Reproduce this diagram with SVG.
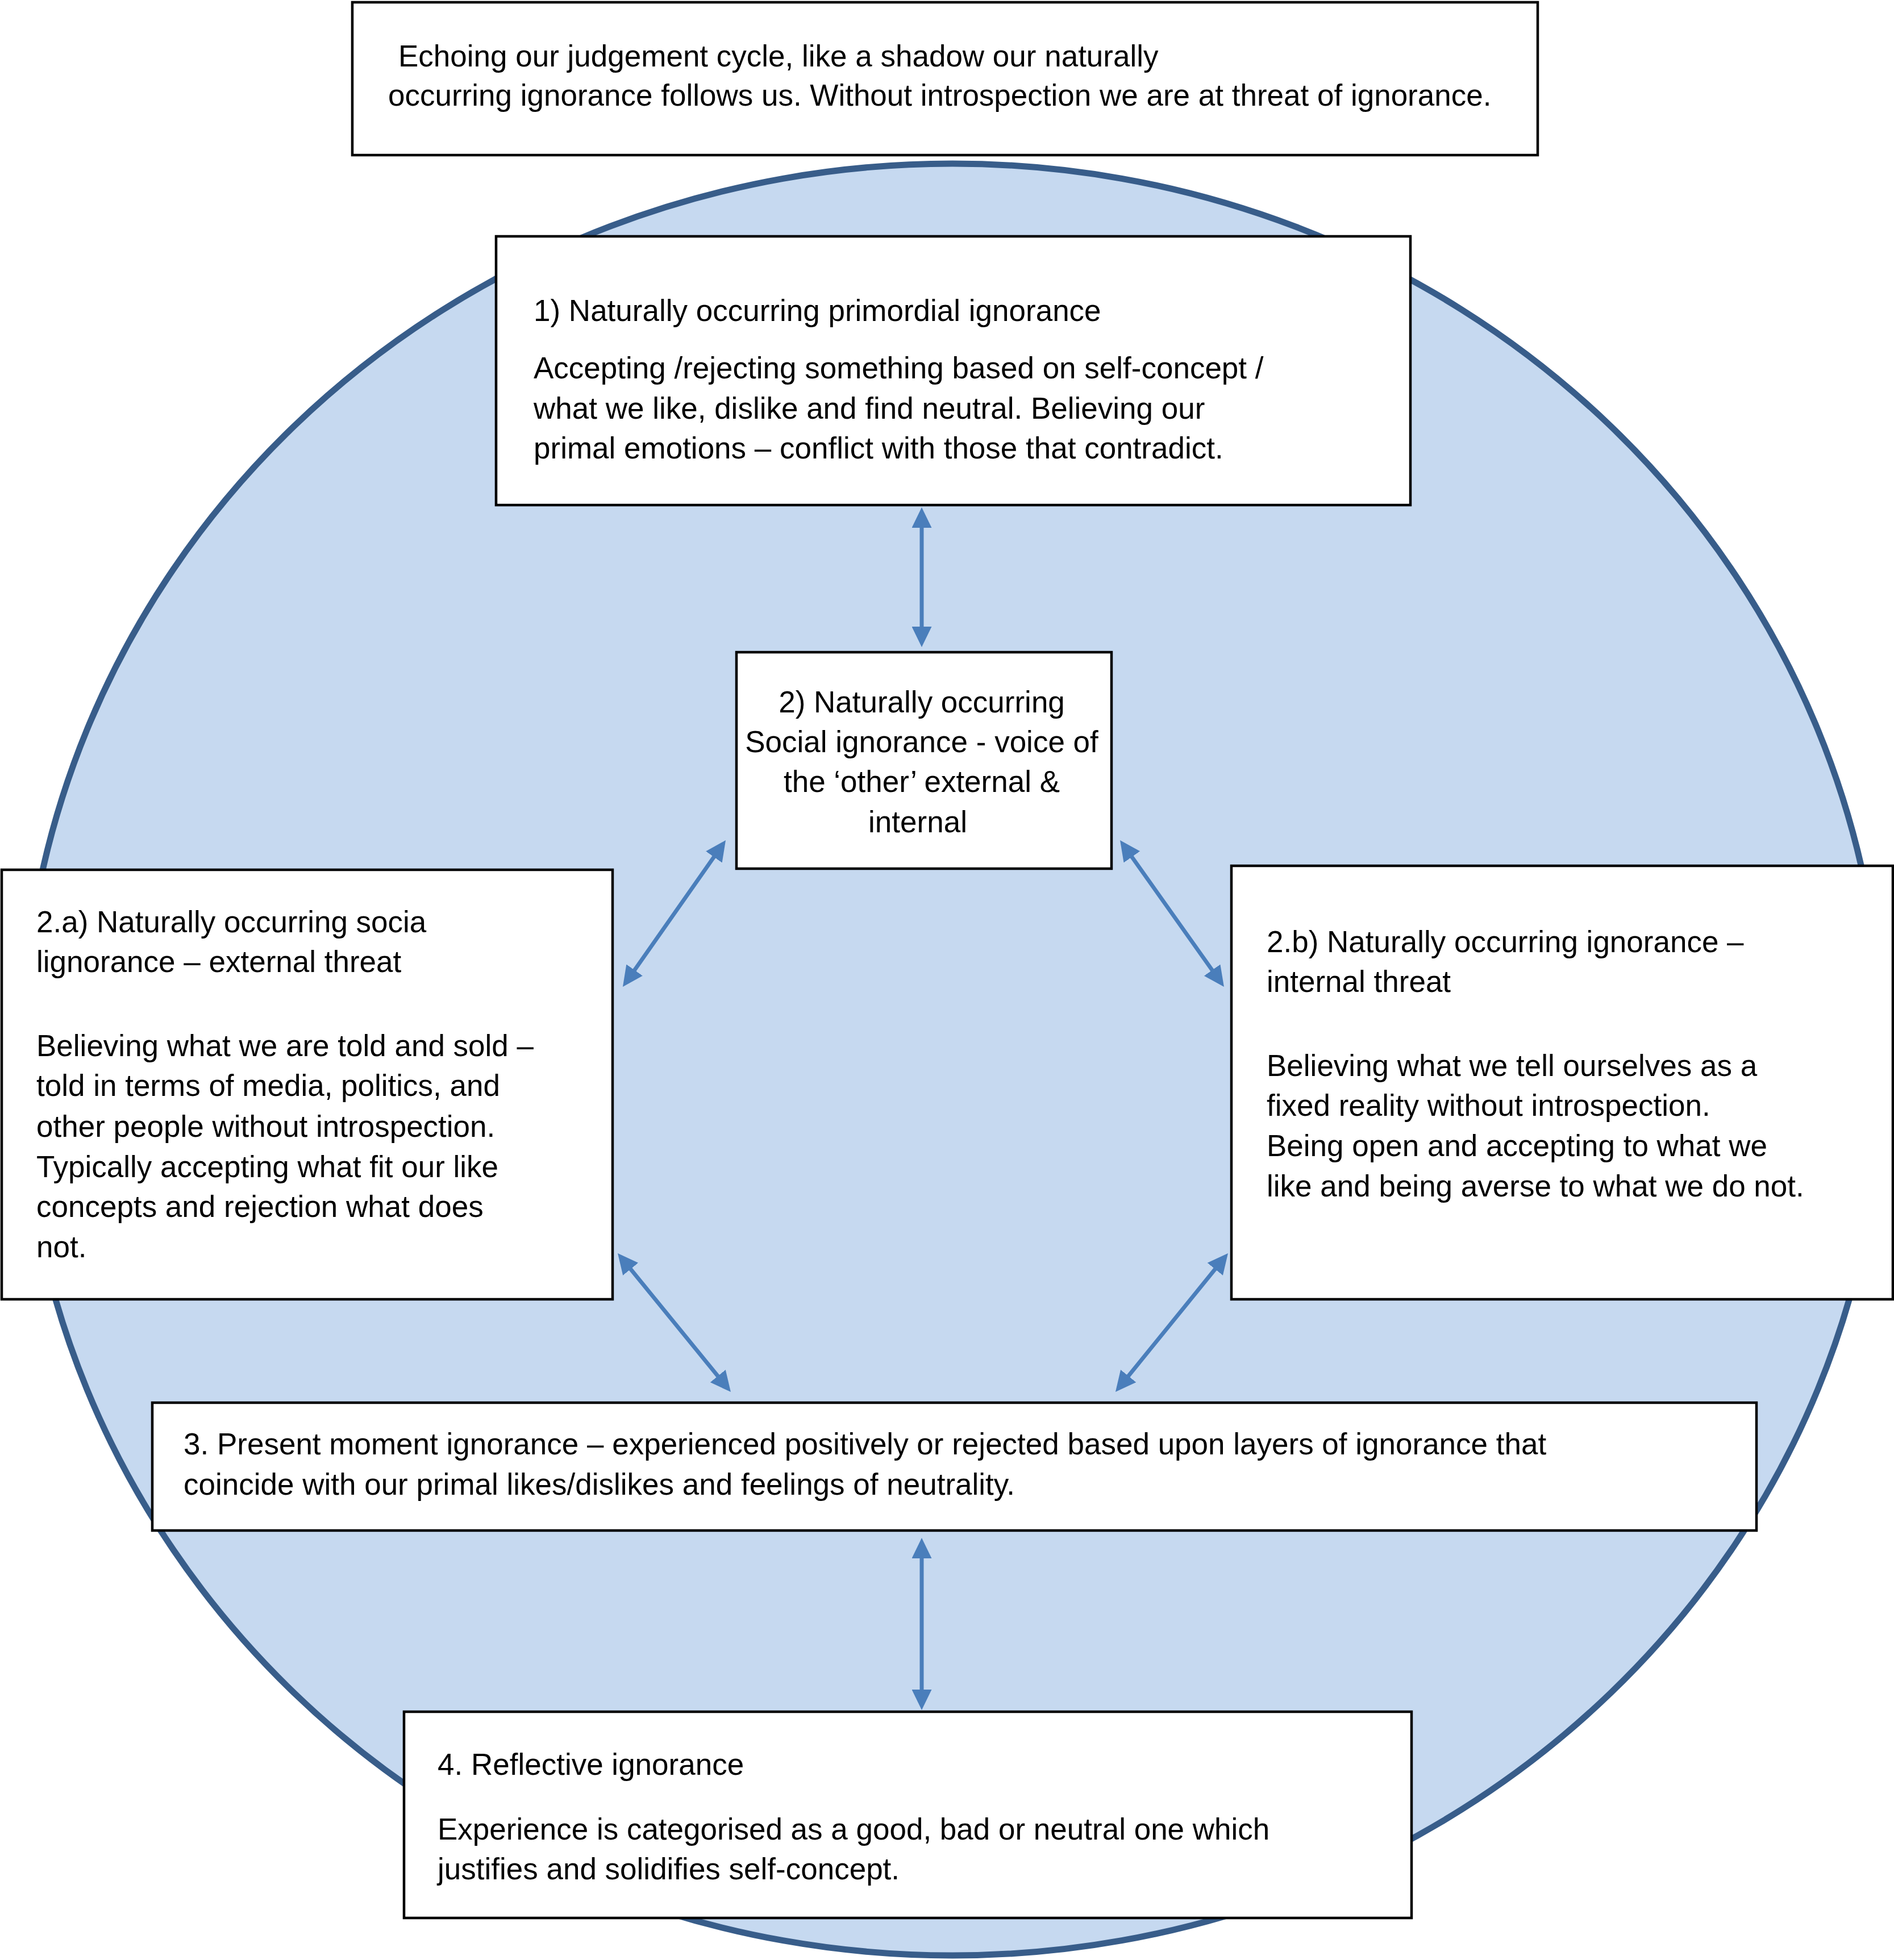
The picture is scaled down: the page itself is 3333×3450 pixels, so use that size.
<svg xmlns="http://www.w3.org/2000/svg" width="3333" height="3450" viewBox="0 0 3333 3450">
<style>
.box{fill:#ffffff;stroke:#000000;stroke-width:4.5}
.t{font-family:"Liberation Sans",Arial,sans-serif;font-size:53px;fill:#000000}
.c{text-anchor:middle}
.conn{stroke:#4a7ebb;stroke-width:7;fill:none;marker-start:url(#ah);marker-end:url(#ah)}
</style>
<defs>
<marker id="ah" markerUnits="userSpaceOnUse" markerWidth="36" markerHeight="35" refX="6" refY="17.5" orient="auto-start-reverse">
<path d="M0,0 L36,17.5 L0,35 z" fill="#4a7ebb"/>
</marker>
</defs>
<rect x="0" y="0" width="3333" height="3450" fill="#ffffff"/>
<ellipse id="cycle" cx="1676" cy="1865" rx="1638" ry="1577" fill="#c6d9f0" stroke="#385d8a" stroke-width="11"/>
<g id="intro">
<rect class="box" x="620" y="4" width="2086" height="269"/>
<text class="t" x="701" y="117">Echoing our judgement cycle, like a shadow our naturally</text>
<text class="t" x="683" y="186">occurring ignorance follows us. Without introspection we are at threat of ignorance.</text>
</g>
<g id="n1">
<rect class="box" x="873" y="416" width="1609" height="473"/>
<text class="t" x="939" y="565">1) Naturally occurring primordial ignorance</text>
<text class="t" x="939" y="666">Accepting /rejecting something based on self-concept /</text>
<text class="t" x="939" y="737">what we like, dislike and find neutral. Believing our</text>
<text class="t" x="939" y="807">primal emotions – conflict with those that contradict.</text>
</g>
<g id="n2">
<rect class="box" x="1296" y="1148" width="660" height="381"/>
<text class="t c" x="1622" y="1254">2) Naturally occurring</text>
<text class="t c" x="1622" y="1324">Social ignorance - voice of</text>
<text class="t c" x="1622" y="1394">the ‘other’ external &amp;</text>
<text class="t c" x="1615" y="1465">internal</text>
</g>
<g id="n2a">
<rect class="box" x="3" y="1531" width="1075" height="756"/>
<text class="t" x="64" y="1641">2.a) Naturally occurring socia</text>
<text class="t" x="64" y="1711">lignorance – external threat</text>
<text class="t" x="64" y="1859">Believing what we are told and sold –</text>
<text class="t" x="64" y="1929">told in terms of media, politics, and</text>
<text class="t" x="64" y="2001">other people without introspection.</text>
<text class="t" x="64" y="2072">Typically accepting what fit our like</text>
<text class="t" x="64" y="2142">concepts and rejection what does</text>
<text class="t" x="64" y="2213">not.</text>
</g>
<g id="n2b">
<rect class="box" x="2167" y="1524" width="1164" height="763"/>
<text class="t" x="2229" y="1676">2.b) Naturally occurring ignorance –</text>
<text class="t" x="2229" y="1746">internal threat</text>
<text class="t" x="2229" y="1894">Believing what we tell ourselves as a</text>
<text class="t" x="2229" y="1964">fixed reality without introspection.</text>
<text class="t" x="2229" y="2035">Being open and accepting to what we</text>
<text class="t" x="2229" y="2106">like and being averse to what we do not.</text>
</g>
<g id="n3">
<rect class="box" x="268" y="2469" width="2823" height="225"/>
<text class="t" x="323" y="2560">3. Present moment ignorance – experienced positively or rejected based upon layers of ignorance that</text>
<text class="t" x="323" y="2631">coincide with our primal likes/dislikes and feelings of neutrality.</text>
</g>
<g id="n4">
<rect class="box" x="711" y="3013" width="1773" height="363"/>
<text class="t" x="770" y="3124">4. Reflective ignorance</text>
<text class="t" x="770" y="3238">Experience is categorised as a good, bad or neutral one which</text>
<text class="t" x="770" y="3308">justifies and solidifies self-concept.</text>
</g>
<g id="connectors">
<line class="conn" x1="1622" y1="923" x2="1622" y2="1109"/>
<line class="conn" x1="1259.8" y1="1503.6" x2="1113.2" y2="1712.4"/>
<line class="conn" x1="1988.4" y1="1503.5" x2="2136.6" y2="1712.5"/>
<line class="conn" x1="1106" y1="2229.2" x2="1267" y2="2426.8"/>
<line class="conn" x1="2142.1" y1="2229.3" x2="1981.9" y2="2426.7"/>
<line class="conn" x1="1622" y1="2737" x2="1622" y2="2980"/>
</g>
</svg>
